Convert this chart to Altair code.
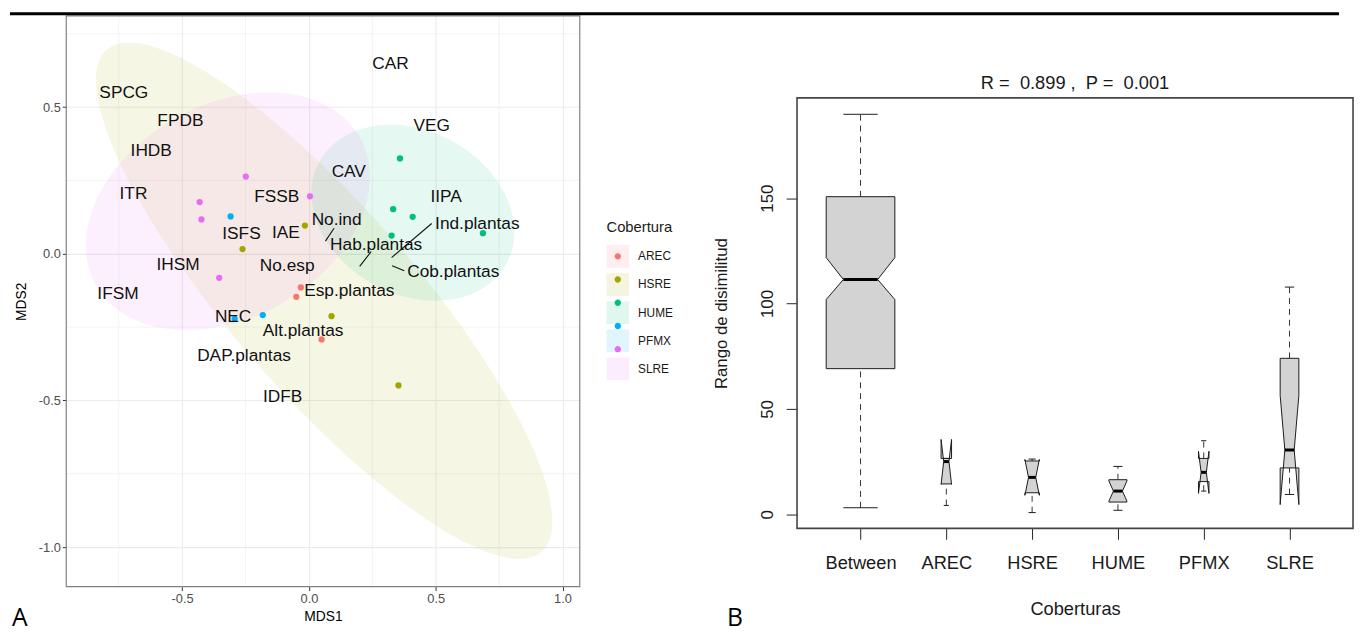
import altair as alt
import numpy as np
import pandas as pd

# ---------------- Panel A : NMDS ----------------
groups = ["AREC", "HSRE", "HUME", "PFMX", "SLRE"]
group_colors = ["#F8766D", "#A3A500", "#00BF7D", "#00B0F6", "#E76BF3"]

site_group = ["AREC", "AREC", "AREC",
              "HSRE", "HSRE", "HSRE", "HSRE",
              "HUME", "HUME", "HUME", "HUME", "HUME",
              "PFMX", "PFMX", "PFMX",
              "SLRE", "SLRE", "SLRE", "SLRE", "SLRE"]
site_x = [-0.032, -0.050, 0.050,
          -0.016, -0.262, 0.089, 0.353,
          0.359, 0.332, 0.409, 0.326, 0.686,
          -0.309, -0.182, -0.293,
          -0.249, 0.004, -0.431, -0.424, -0.354]
site_y = [-0.115, -0.147, -0.292,
          0.096, 0.016, -0.213, -0.449,
          0.325, 0.152, 0.126, 0.062, 0.070,
          0.127, -0.209, -0.222,
          0.263, 0.196, 0.176, 0.117, -0.082]

var_names = ["CAR", "SPCG", "FPDB", "VEG", "IHDB", "CAV", "ITR", "FSSB", "IIPA",
             "No.ind", "Ind.plantas", "ISFS", "IAE", "Hab.plantas", "IHSM", "No.esp",
             "Cob.plantas", "IFSM", "Esp.plantas", "NEC", "Alt.plantas", "DAP.plantas", "IDFB"]
var_x = [0.322, -0.730, -0.507, 0.484, -0.622, 0.157, -0.692, -0.127, 0.541,
         0.109, 0.664, -0.266, -0.091, 0.265, -0.516, -0.086,
         0.569, -0.753, 0.159, -0.299, -0.023, -0.256, -0.104]
var_y = [0.645, 0.547, 0.454, 0.437, 0.350, 0.280, 0.202, 0.194, 0.194,
         0.115, 0.101, 0.067, 0.071, 0.030, -0.039, -0.041,
         -0.062, -0.138, -0.127, -0.217, -0.262, -0.348, -0.489]

seg_x1 = [0.065, 0.200, 0.326, 0.328]
seg_y1 = [0.043, -0.043, -0.013, -0.041]
seg_x2 = [0.099, 0.245, 0.484, 0.376]
seg_y2 = [0.087, 0.007, 0.103, -0.058]

# ellipse (stat_ellipse) parameters
ell_group = ["HSRE", "HUME", "SLRE"]
ell_cx = [0.06, 0.41, -0.32]
ell_cy = [-0.16, 0.14, 0.145]
ell_sx = [0.90, 0.40, 0.56]
ell_sy = [0.88, 0.30, 0.405]
ell_rho = [-0.855, -0.22, 0.29]

mds_x_domain = [-0.957, 1.068]
mds_y_domain = [-1.135, 0.811]
mds_x_ticks = [-0.5, 0.0, 0.5, 1.0]
mds_y_ticks = [-1.0, -0.5, 0.0, 0.5]
mds_minor = [-0.75, -0.25, 0.25, 0.75]

# ---------------- Panel B : ANOSIM boxplot ----------------
box_names = ["Between", "AREC", "HSRE", "HUME", "PFMX", "SLRE"]
box_pos = [1, 2, 3, 4, 5, 6]
whi_lo = [3.1, 4.2, 0.8, 1.9, 11.0, 9.4]
q1 = [69.1, 14.4, 10.2, 5.8, 15.5, 22.0]
notch_lo = [101.9, 14.2, 9.0, 6.2, 9.9, 4.6]
med = [111.4, 25.0, 17.5, 11.0, 19.9, 30.5]
notch_hi = [121.8, 35.5, 26.0, 15.8, 29.9, 56.4]
q3 = [150.7, 26.5, 25.3, 16.4, 26.5, 74.0]
whi_hi = [189.8, 26.5, 26.2, 22.7, 34.9, 107.8]
half_w = [0.40, 0.061, 0.084, 0.105, 0.061, 0.109]
r_y_ticks = [0, 50, 100, 150]
r_x_domain = [0.26, 6.74]
r_y_domain = [-6.7, 236.5]
r_frame_top = 197.6
anosim_title = "R = \u00a00.899 , \u00a0P = \u00a00.001"

FONT = "Liberation Sans"

# ======== build panel A ========
xs = alt.Scale(domain=mds_x_domain, nice=False, zero=False)
ys = alt.Scale(domain=mds_y_domain, nice=False, zero=False)
lab_expr = "replace(format(datum.value, '.1f'), '\u2212', '-')"
ax_x = alt.Axis(values=mds_x_ticks, labelExpr=lab_expr, grid=True, gridColor="#EBEBEB",
                gridWidth=1.1, domain=False, tickSize=4, tickColor="#333333", tickWidth=1,
                labelColor="#4D4D4D", labelFontSize=13, labelPadding=2, title="MDS1",
                titleFontSize=14, titleFontWeight="normal", titleColor="#000000", titlePadding=4)
ax_y = alt.Axis(values=mds_y_ticks, labelExpr=lab_expr, grid=True, gridColor="#EBEBEB",
                gridWidth=1.1, domain=False, tickSize=4, tickColor="#333333", tickWidth=1,
                labelColor="#4D4D4D", labelFontSize=13, labelPadding=2, title="MDS2",
                titleFontSize=14, titleFontWeight="normal", titleColor="#000000", titlePadding=10)


def AX(f):
    return alt.X(f, type="quantitative", scale=xs, axis=ax_x)


def AY(f):
    return alt.Y(f, type="quantitative", scale=ys, axis=ax_y)


minor_df = pd.DataFrame({"v": mds_minor})
minor_v = alt.Chart(minor_df).mark_rule(color="#EBEBEB", strokeWidth=0.6).encode(x=AX("v"))
minor_h = alt.Chart(minor_df).mark_rule(color="#EBEBEB", strokeWidth=0.6).encode(y=AY("v"))

tt = np.linspace(0, 2 * np.pi, 241)[:-1]
ell_rows = []
for g, cx, cy, sx, sy, r in zip(ell_group, ell_cx, ell_cy, ell_sx, ell_sy, ell_rho):
    for k, t in enumerate(tt):
        ell_rows.append({"group": g, "k": k,
                         "x": cx + sx * np.cos(t),
                         "y": cy + sy * (r * np.cos(t) + np.sqrt(1 - r * r) * np.sin(t))})
ell_df = pd.DataFrame(ell_rows)

leg_fill = alt.Legend(orient="none", legendX=547, legendY=207, title="Cobertura",
                      titleFontSize=15, titleFontWeight="normal", titleColor="#1a1a1a",
                      titlePadding=10, labelFontSize=12, labelColor="#1a1a1a",
                      labelOffset=9, symbolType="square", symbolSize=529,
                      symbolOpacity=0.12, symbolStrokeWidth=0, rowPadding=5.5)
dot_path = "M-0.28,0A0.28,0.28 0 1,0 0.28,0A0.28,0.28 0 1,0 -0.28,0Z"
leg_pts = alt.Legend(orient="none", legendX=547, legendY=232, title=None,
                     labelExpr="''", labelFontSize=12, labelOffset=9,
                     symbolType=dot_path, symbolSize=529,
                     symbolOpacity=1, symbolStrokeWidth=0, rowPadding=5.5)

ellipses = alt.Chart(ell_df).mark_line(interpolate="linear-closed", fillOpacity=0.1,
                                       strokeOpacity=0, strokeWidth=0).encode(
    x=AX("x"), y=AY("y"),
    fill=alt.Fill("group:N", scale=alt.Scale(domain=groups, range=group_colors), legend=leg_fill),
    detail="group:N",
    order=alt.Order("k:Q"),
)

seg_df = pd.DataFrame({"x1": seg_x1, "y1": seg_y1, "x2": seg_x2, "y2": seg_y2})
segments = alt.Chart(seg_df).mark_rule(color="#111111", strokeWidth=1.1).encode(
    x=AX("x1"), y=AY("y1"), x2=alt.X2("x2"), y2=alt.Y2("y2"))

pts_df = pd.DataFrame({"group": site_group, "x": site_x, "y": site_y})
points = alt.Chart(pts_df).mark_circle(size=40, opacity=1).encode(
    x=AX("x"), y=AY("y"),
    color=alt.Color("group:N", scale=alt.Scale(range=group_colors), legend=leg_pts))

var_df = pd.DataFrame({"name": var_names, "x": var_x, "y": var_y})
labels = alt.Chart(var_df).mark_text(fontSize=17.5, color="#111111", font=FONT).encode(
    x=AX("x"), y=AY("y"), text="name:N")

border_df = pd.DataFrame({"x1": [mds_x_domain[0]], "x2": [mds_x_domain[1]],
                          "y1": [mds_y_domain[0]], "y2": [mds_y_domain[1]]})
border = alt.Chart(border_df).mark_rect(fill="transparent", stroke="#808080", strokeWidth=1.2).encode(
    x=AX("x1"), x2=alt.X2("x2"), y=AY("y1"), y2=alt.Y2("y2"))

letter_a = alt.Chart(pd.DataFrame({"x": [-1.171], "y": [-1.269], "t": ["A"]})).mark_text(
    font="Open Sans", fontSize=25, align="left", baseline="alphabetic", color="black").encode(
    x=AX("x"), y=AY("y"), text="t:N")

top_bar = alt.Chart(pd.DataFrame({"x1": [-1.179], "x2": [4.062], "y": [0.818]})).mark_rule(
    color="black", strokeWidth=3).encode(x=AX("x1"), x2=alt.X2("x2"), y=AY("y"))

left = alt.layer(minor_v, minor_h, ellipses, segments, points, labels, border, letter_a,
                 top_bar).properties(width=520, height=578)

# ======== build panel B ========
rxs = alt.Scale(domain=r_x_domain, nice=False, zero=False)
rys = alt.Scale(domain=r_y_domain, nice=False, zero=False)
names_js = "[" + ",".join("'%s'" % n for n in box_names) + "]"
ax_rx = alt.Axis(values=box_pos, labelExpr=names_js + "[datum.value - 1]", grid=False,
                 domain=False, tickSize=11, tickColor="#222222", tickWidth=1,
                 labelFontSize=18.5, labelColor="#1a1a1a", labelPadding=15,
                 title="Coberturas", titleFontSize=18.5, titleFontWeight="normal",
                 titleColor="#1a1a1a", titleY=80.7, titleBaseline="middle")
ax_ry = alt.Axis(values=r_y_ticks, grid=False, domain=False, tickSize=11, tickColor="#222222",
                 tickWidth=1, labelAngle=270, labelAlign="center", labelBaseline="bottom",
                 labelFontSize=17, labelColor="#1a1a1a", labelPadding=10,
                 title="Rango de disimilitud", titleFontSize=17, titleFontWeight="normal",
                 titleColor="#1a1a1a", titleAngle=270, titleX=-76, titleY=301,
                 titleAlign="center", titleBaseline="middle")


def BX(f):
    return alt.X(f, type="quantitative", scale=rxs, axis=ax_rx)


def BY(f):
    return alt.Y(f, type="quantitative", scale=rys, axis=ax_ry)


poly_rows = []
for i, nm in enumerate(box_names):
    x, w = box_pos[i], half_w[i]
    vx = [x - w, x - w, x - w / 2, x - w, x - w, x + w, x + w, x + w / 2, x + w, x + w]
    vy = [q1[i], notch_lo[i], med[i], notch_hi[i], q3[i], q3[i], notch_hi[i], med[i],
          notch_lo[i], q1[i]]
    for k in range(10):
        poly_rows.append({"box": nm, "k": k, "x": vx[k], "y": vy[k]})
poly_df = pd.DataFrame(poly_rows)

boxes = alt.Chart(poly_df).mark_line(interpolate="linear-closed", fill="#D3D3D3",
                                     stroke="#1a1a1a", strokeWidth=1).encode(
    x=BX("x"), y=BY("y"), detail="box:N", order=alt.Order("k:Q"))

wh_rows = []
st_rows = []
md_rows = []
for i, nm in enumerate(box_names):
    x, w = box_pos[i], half_w[i]
    wh_rows.append({"x": x, "y1": q3[i], "y2": whi_hi[i]})
    wh_rows.append({"x": x, "y1": whi_lo[i], "y2": q1[i]})
    st_rows.append({"xa": x - w / 2, "xb": x + w / 2, "y": whi_hi[i]})
    st_rows.append({"xa": x - w / 2, "xb": x + w / 2, "y": whi_lo[i]})
    md_rows.append({"xa": x - w / 2, "xb": x + w / 2, "y": med[i]})

whiskers = alt.Chart(pd.DataFrame(wh_rows)).mark_rule(color="#333333", strokeWidth=1,
                                                      strokeDash=[6, 5]).encode(
    x=BX("x"), y=BY("y1"), y2=alt.Y2("y2"))
staples = alt.Chart(pd.DataFrame(st_rows)).mark_rule(color="#1a1a1a", strokeWidth=1).encode(
    x=BX("xa"), x2=alt.X2("xb"), y=BY("y"))
medians = alt.Chart(pd.DataFrame(md_rows)).mark_rule(color="black", strokeWidth=3).encode(
    x=BX("xa"), x2=alt.X2("xb"), y=BY("y"))

frame_df = pd.DataFrame({"x1": [r_x_domain[0]], "x2": [r_x_domain[1]],
                         "y1": [r_y_domain[0]], "y2": [r_frame_top]})
frame = alt.Chart(frame_df).mark_rect(fill="transparent", stroke="#444444", strokeWidth=1.6).encode(
    x=BX("x1"), x2=alt.X2("x2"), y=BY("y1"), y2=alt.Y2("y2"))

title_b = alt.Chart(pd.DataFrame({"x": [3.5], "y": [204.6], "t": [anosim_title]})).mark_text(
    fontSize=18.5, color="#1a1a1a", font=FONT, baseline="middle").encode(
    x=BX("x"), y=BY("y"), text="t:N")

letter_b = alt.Chart(pd.DataFrame({"x": [-0.557], "y": [-53.1], "t": ["B"]})).mark_text(
    font="Open Sans", fontSize=25, align="left", baseline="alphabetic", color="black").encode(
    x=BX("x"), y=BY("y"), text="t:N")

right = alt.layer(frame, whiskers, boxes, staples, medians, title_b, letter_b).properties(
    width=563, height=519)

chart = alt.hconcat(left, right, spacing=220, bounds="flush", padding=0).resolve_scale(
    color="independent", fill="independent").configure(font=FONT).configure_view(stroke=None)

chart.save("out.html", embed_options={"renderer": "svg", "actions": False})
